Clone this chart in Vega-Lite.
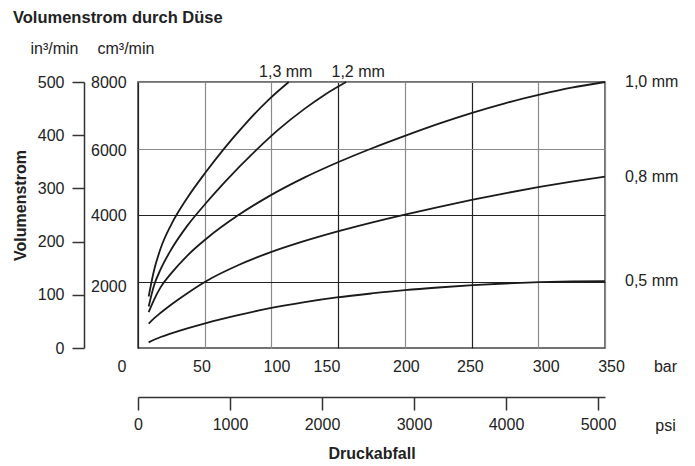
{
  "$schema": "https://vega.github.io/schema/vega-lite/v6.json",
  "width": 467,
  "height": 266,
  "autosize": {"type": "none"},
  "padding": {"left": 138, "top": 82, "right": 90, "bottom": 118},
  "background": "white",
  "config": {
    "font": "Liberation Sans",
    "view": {"stroke": "#444", "strokeWidth": 1.5},
    "axis": {"labelFont": "Liberation Sans", "labelFontSize": 16, "labelColor": "#222", "titleFont": "Liberation Sans", "titleFontSize": 16, "titleColor": "#222"},
    "text": {"font": "Liberation Sans", "fontSize": 16, "color": "#222"}
  },
  "title": {
    "text": "Volumenstrom durch Düse",
    "anchor": "start",
    "frame": "group",
    "dx": -125,
    "dy": 14,
    "font": "Liberation Sans",
    "fontSize": 16.5,
    "fontWeight": "bold",
    "color": "#222",
    "offset": 28
  },
  "data": {
    "values": [
      {"d": "1,3 mm", "bar": 8, "vol": 1550},
      {"d": "1,3 mm", "bar": 12, "vol": 2330},
      {"d": "1,3 mm", "bar": 17, "vol": 3000},
      {"d": "1,3 mm", "bar": 25, "vol": 3720},
      {"d": "1,3 mm", "bar": 37, "vol": 4520},
      {"d": "1,3 mm", "bar": 51, "vol": 5300},
      {"d": "1,3 mm", "bar": 65, "vol": 6020},
      {"d": "1,3 mm", "bar": 80, "vol": 6720},
      {"d": "1,3 mm", "bar": 98, "vol": 7470},
      {"d": "1,3 mm", "bar": 113, "vol": 8000},
      {"d": "1,2 mm", "bar": 8, "vol": 1250},
      {"d": "1,2 mm", "bar": 12, "vol": 1880},
      {"d": "1,2 mm", "bar": 17, "vol": 2370},
      {"d": "1,2 mm", "bar": 25, "vol": 2970},
      {"d": "1,2 mm", "bar": 37, "vol": 3680},
      {"d": "1,2 mm", "bar": 51, "vol": 4360},
      {"d": "1,2 mm", "bar": 65, "vol": 4990},
      {"d": "1,2 mm", "bar": 88, "vol": 5930},
      {"d": "1,2 mm", "bar": 105, "vol": 6560},
      {"d": "1,2 mm", "bar": 125, "vol": 7200},
      {"d": "1,2 mm", "bar": 140, "vol": 7620},
      {"d": "1,2 mm", "bar": 156, "vol": 8000},
      {"d": "1,0 mm", "bar": 8, "vol": 1080},
      {"d": "1,0 mm", "bar": 12, "vol": 1450},
      {"d": "1,0 mm", "bar": 17, "vol": 1830},
      {"d": "1,0 mm", "bar": 25, "vol": 2250},
      {"d": "1,0 mm", "bar": 37, "vol": 2780},
      {"d": "1,0 mm", "bar": 51, "vol": 3280},
      {"d": "1,0 mm", "bar": 75, "vol": 3990},
      {"d": "1,0 mm", "bar": 98, "vol": 4560},
      {"d": "1,0 mm", "bar": 125, "vol": 5130},
      {"d": "1,0 mm", "bar": 149, "vol": 5570},
      {"d": "1,0 mm", "bar": 175, "vol": 6000},
      {"d": "1,0 mm", "bar": 200, "vol": 6380},
      {"d": "1,0 mm", "bar": 225, "vol": 6740},
      {"d": "1,0 mm", "bar": 251, "vol": 7080},
      {"d": "1,0 mm", "bar": 275, "vol": 7360},
      {"d": "1,0 mm", "bar": 301, "vol": 7620},
      {"d": "1,0 mm", "bar": 325, "vol": 7830},
      {"d": "1,0 mm", "bar": 350, "vol": 8000},
      {"d": "0,8 mm", "bar": 8, "vol": 735},
      {"d": "0,8 mm", "bar": 12, "vol": 890},
      {"d": "0,8 mm", "bar": 17, "vol": 1060},
      {"d": "0,8 mm", "bar": 25, "vol": 1310},
      {"d": "0,8 mm", "bar": 37, "vol": 1650},
      {"d": "0,8 mm", "bar": 51, "vol": 2010},
      {"d": "0,8 mm", "bar": 75, "vol": 2490},
      {"d": "0,8 mm", "bar": 98, "vol": 2860},
      {"d": "0,8 mm", "bar": 125, "vol": 3220},
      {"d": "0,8 mm", "bar": 149, "vol": 3500},
      {"d": "0,8 mm", "bar": 175, "vol": 3773},
      {"d": "0,8 mm", "bar": 200, "vol": 4013},
      {"d": "0,8 mm", "bar": 225, "vol": 4238},
      {"d": "0,8 mm", "bar": 251, "vol": 4459},
      {"d": "0,8 mm", "bar": 275, "vol": 4651},
      {"d": "0,8 mm", "bar": 301, "vol": 4843},
      {"d": "0,8 mm", "bar": 325, "vol": 5004},
      {"d": "0,8 mm", "bar": 350, "vol": 5154},
      {"d": "0,5 mm", "bar": 8, "vol": 170},
      {"d": "0,5 mm", "bar": 17, "vol": 330},
      {"d": "0,5 mm", "bar": 25, "vol": 440},
      {"d": "0,5 mm", "bar": 37, "vol": 590},
      {"d": "0,5 mm", "bar": 51, "vol": 750},
      {"d": "0,5 mm", "bar": 75, "vol": 990},
      {"d": "0,5 mm", "bar": 98, "vol": 1190},
      {"d": "0,5 mm", "bar": 125, "vol": 1380},
      {"d": "0,5 mm", "bar": 149, "vol": 1520},
      {"d": "0,5 mm", "bar": 175, "vol": 1640},
      {"d": "0,5 mm", "bar": 200, "vol": 1740},
      {"d": "0,5 mm", "bar": 225, "vol": 1820},
      {"d": "0,5 mm", "bar": 251, "vol": 1890},
      {"d": "0,5 mm", "bar": 275, "vol": 1940},
      {"d": "0,5 mm", "bar": 301, "vol": 1980},
      {"d": "0,5 mm", "bar": 325, "vol": 2000},
      {"d": "0,5 mm", "bar": 350, "vol": 2010}
    ]
  },
  "layer": [
    {
      "mark": {"type": "line", "interpolate": "monotone", "color": "#1a1a1a", "strokeWidth": 1.8},
      "encoding": {
        "x": {
          "field": "bar", "type": "quantitative",
          "scale": {"domain": [0, 350], "nice": false, "zero": false},
          "axis": {
            "orient": "bottom",
            "values": [0, 50, 100, 150, 200, 250, 300, 350],
            "format": "d",
            "domain": false,
            "ticks": false,
            "tickSize": 0,
            "labelBaseline": "middle",
            "labelPadding": 18,
            "labelFlush": false,
            "labelOverlap": false,
            "grid": true,
            "gridWidth": 1.2,
            "gridColor": {"condition": {"test": "datum.value === 0 || datum.value === 150 || datum.value === 250", "value": "#222"}, "value": "#8a8a8a"},
            "labelOffset": {"condition": [
              {"test": "datum.value === 0", "value": -16.6},
              {"test": "datum.value === 50", "value": -3.3},
              {"test": "datum.value === 100", "value": 5},
              {"test": "datum.value === 150", "value": -11.7},
              {"test": "datum.value === 200", "value": 1},
              {"test": "datum.value === 250", "value": -1.7},
              {"test": "datum.value === 300", "value": 7.4},
              {"test": "datum.value === 350", "value": 6}
            ], "value": 0},
            "title": "bar",
            "titleAngle": 0,
            "titleX": 527,
            "titleY": 18,
            "titleAlign": "center",
            "titleBaseline": "middle",
            "titleFontWeight": "normal"
          }
        },
        "y": {
          "field": "vol", "type": "quantitative",
          "scale": {"domain": [0, 8000], "nice": false, "zero": true},
          "axis": {
            "orient": "left",
            "values": [2000, 4000, 6000, 8000],
            "format": "d",
            "domain": false,
            "ticks": false,
            "tickSize": 0,
            "labelAlign": "left",
            "labelBaseline": "middle",
            "labelPadding": 47.5,
            "grid": true,
            "gridWidth": 1.2,
            "gridColor": {"condition": {"test": "datum.value === 6000 || datum.value === 8000", "value": "#8a8a8a"}, "value": "#222"},
            "labelOffset": {"condition": [
              {"test": "datum.value === 2000", "value": 5},
              {"test": "datum.value === 6000", "value": 2}
            ], "value": 0},
            "title": "cm³/min",
            "titleAngle": 0,
            "titleX": -41,
            "titleY": -34,
            "titleAlign": "left",
            "titleBaseline": "middle",
            "titleFontWeight": "normal"
          }
        },
        "detail": {"field": "d"}
      }
    },
    {
      "transform": [
        {"joinaggregate": [{"op": "max", "field": "bar", "as": "mx"}], "groupby": ["d"]},
        {"filter": "datum.bar === datum.mx && (datum.d === '1,3 mm' || datum.d === '1,2 mm')"}
      ],
      "mark": {"type": "text", "align": "center", "baseline": "middle", "dy": -10, "dx": {"expr": "datum.d === '1,2 mm' ? 12 : -3"}},
      "encoding": {
        "x": {
          "field": "bar", "type": "quantitative",
          "axis": {
            "orient": "bottom",
            "offset": 49,
            "values": [0, 68.948, 137.895, 206.843, 275.79, 344.738],
            "labelExpr": "format(round(datum.value * 14.50377), 'd')",
            "domain": true,
            "domainColor": "#333",
            "domainWidth": 1.5,
            "ticks": true,
            "tickSize": 13,
            "tickColor": "#333",
            "tickWidth": 1.5,
            "labelBaseline": "middle",
            "labelPadding": 14.5,
            "labelFlush": false,
            "labelOverlap": false,
            "grid": false,
            "title": "psi",
            "titleAngle": 0,
            "titleX": 527,
            "titleY": 28,
            "titleAlign": "center",
            "titleBaseline": "middle",
            "titleFontWeight": "normal"
          }
        },
        "y": {
          "field": "vol", "type": "quantitative",
          "axis": {
            "orient": "left",
            "offset": 54,
            "values": [0, 1600, 3200, 4800, 6400, 8000],
            "labelExpr": "format(datum.value / 16, 'd')",
            "domain": true,
            "domainColor": "#333",
            "domainWidth": 1.5,
            "ticks": true,
            "tickSize": 12,
            "tickColor": "#333",
            "tickWidth": 1.5,
            "labelPadding": 8,
            "labelBaseline": "middle",
            "grid": false,
            "title": "Volumenstrom",
            "titleFontWeight": "bold",
            "titleAngle": -90,
            "titleX": -64,
            "titleY": 123,
            "titleAlign": "center",
            "titleBaseline": "middle"
          }
        },
        "text": {"field": "d"}
      }
    },
    {
      "transform": [
        {"joinaggregate": [{"op": "max", "field": "bar", "as": "mx"}], "groupby": ["d"]},
        {"filter": "datum.bar === datum.mx && (datum.d === '1,0 mm' || datum.d === '0,8 mm' || datum.d === '0,5 mm')"}
      ],
      "mark": {"type": "text", "align": "left", "baseline": "middle", "dx": 20},
      "encoding": {
        "x": {
          "field": "bar", "type": "quantitative",
          "axis": {
            "orient": "bottom",
            "offset": 49,
            "domain": false,
            "ticks": false,
            "labels": false,
            "grid": false,
            "title": "Druckabfall",
            "titleFontWeight": "bold",
            "titleAngle": 0,
            "titleX": 233.5,
            "titleY": 56,
            "titleAlign": "center",
            "titleBaseline": "middle"
          }
        },
        "y": {
          "field": "vol", "type": "quantitative",
          "axis": {
            "orient": "left",
            "domain": false,
            "ticks": false,
            "labels": false,
            "grid": false,
            "title": "in³/min",
            "titleAngle": 0,
            "titleX": -108,
            "titleY": -34,
            "titleAlign": "left",
            "titleBaseline": "middle",
            "titleFontWeight": "normal"
          }
        },
        "text": {"field": "d"}
      }
    }
  ],
  "resolve": {"axis": {"x": "independent", "y": "independent"}}
}
